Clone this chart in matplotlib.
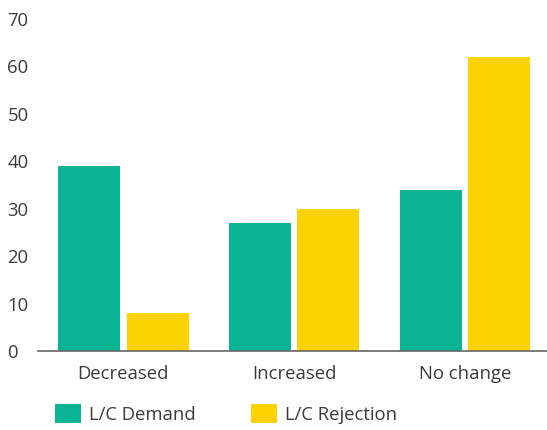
import matplotlib
matplotlib.use('Agg')
import matplotlib.pyplot as plt
import numpy as np

categories = ['Decreased', 'Increased', 'No change']
lc_demand = [39, 27, 34]
lc_rejection = [8, 30, 62]
series_names = ['L/C Demand', 'L/C Rejection']
y_ticks = [0, 10, 20, 30, 40, 50, 60, 70]

TEAL = '#0bb395'
YELLOW = '#fcd200'
TEXT = '#3a3a3a'
FS = 13.3

plt.rcParams['font.family'] = ['Open Sans', 'DejaVu Sans']

fig = plt.figure(figsize=(5.47, 4.30), dpi=100)
ax = fig.add_axes([0.0695, 0.1837, 0.9305, 0.773])

x = np.arange(len(categories))
w = 0.363
off = 0.2
b1 = ax.bar(x - off, lc_demand, w, color=TEAL, label=series_names[0])
b2 = ax.bar(x + off, lc_rejection, w, color=YELLOW, label=series_names[1])

ax.set_xlim(-0.5, 2.48)
ax.set_ylim(0, 70)
ax.set_yticks(y_ticks)
ax.set_xticks(x)
ax.set_xticklabels(categories)
ax.tick_params(axis='both', length=0, labelsize=FS, colors=TEXT)
ax.tick_params(axis='y', pad=22)
ax.tick_params(axis='x', pad=10)
for lab in ax.get_yticklabels():
    lab.set_horizontalalignment('left')
for s in ('top', 'right', 'left'):
    ax.spines[s].set_visible(False)
ax.spines['bottom'].set_color('#666666')
ax.spines['bottom'].set_linewidth(1.2)

fig.legend(handles=[b1, b2], loc='center left', bbox_to_anchor=(0.1, 0.037),
           ncol=2, frameon=False, fontsize=FS, handlelength=1.4,
           handleheight=1.13, handletextpad=0.45, columnspacing=3.0,
           labelcolor=TEXT, borderaxespad=0, borderpad=0)

fig.savefig('out.png', dpi=100)
